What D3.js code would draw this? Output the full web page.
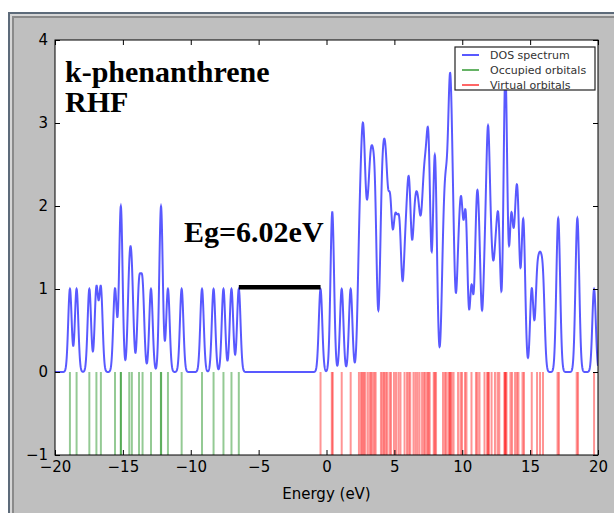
<!DOCTYPE html>
<html>
<head>
<meta charset="utf-8">
<script src="https://cdnjs.cloudflare.com/ajax/libs/d3/7.8.5/d3.min.js"></script>
<style>
  body { margin: 0; background: #fff; }
  svg { display: block; }
</style>
</head>
<body>
<script>
// orbital energies in eV
var occupied_levels = [-18.90, -18.41, -17.47, -16.95, -16.62, -15.58, -15.16, -15.14,
  -14.53, -14.34, -13.81, -13.55, -12.93, -12.20, -12.18, -11.68, -10.67, -9.17,
  -8.32, -7.59, -7.00, -6.46];
var virtual_levels = [-0.44, 0.39, 0.46, 1.12, 1.78,
  2.39, 2.54, 2.65, 2.73, 2.84, 3.02, 3.17, 3.28, 3.39, 3.52, 3.62,
  4.01, 4.13, 4.24, 4.35, 4.46, 4.64, 4.75, 4.97, 5.12, 5.30, 5.45,
  5.75, 5.93, 6.06, 6.17, 6.41, 6.56, 6.70, 6.85, 7.04, 7.18, 7.29, 7.43, 7.51, 7.60,
  7.90, 7.98, 8.07, 8.58, 8.73, 8.84, 9.00, 9.08, 9.13, 9.22, 9.36,
  9.69, 9.87, 9.98, 10.20, 10.31, 10.68, 11.01, 11.12, 11.27,
  11.64, 11.83, 11.90, 11.97, 12.16, 12.41, 12.60, 12.73,
  13.10, 13.15, 13.20, 13.26, 13.55, 13.67, 13.89, 14.03, 14.14, 14.44, 14.55,
  15.12, 15.51, 15.73, 15.95, 17.02, 17.12, 18.43, 18.53, 19.71];
var homo_energy = -6.46;
var lumo_energy = -0.44;
var broadening_fwhm = 0.3; // gaussian width used for the DOS curve
var x_ticks = [-20, -15, -10, -5, 0, 5, 10, 15, 20];
var y_ticks = [-1, 0, 1, 2, 3, 4];
var legend_labels = ["DOS spectrum", "Occupied orbitals", "Virtual orbitals"];
var title_lines = ["k-phenanthrene", "RHF"];
var gap_label = "Eg=6.02eV";

var width = 614, height = 513;
var svg = d3.select("body").append("svg")
  .attr("width", width)
  .attr("height", height);

// window border and grey figure background
svg.append("rect").attr("x", 8).attr("y", 12).attr("width", width - 8).attr("height", height - 12)
  .attr("fill", "#5d6b7a");
svg.append("rect").attr("x", 10).attr("y", 14).attr("width", width - 10).attr("height", height - 14)
  .attr("fill", "#d6d6d6");
svg.append("rect").attr("x", 12).attr("y", 16).attr("width", width - 12).attr("height", height - 16)
  .attr("fill", "#8a8a8a");
svg.append("rect").attr("x", 14).attr("y", 18).attr("width", width - 14).attr("height", height - 18)
  .attr("fill", "#bfbfbf");

// plot area edges in pixels
var plot_left = 55, plot_right = 598, plot_top = 40, plot_bottom = 455;
var x = d3.scaleLinear().domain([-20, 20]).range([plot_left, plot_right]);
var y = d3.scaleLinear().domain([-1, 4]).range([plot_bottom, plot_top]);

svg.append("rect")
  .attr("x", plot_left).attr("y", plot_top)
  .attr("width", plot_right - plot_left).attr("height", plot_bottom - plot_top)
  .attr("fill", "#fff");

svg.append("clipPath").attr("id", "plot-clip")
  .append("rect")
  .attr("x", plot_left).attr("y", plot_top)
  .attr("width", plot_right - plot_left).attr("height", plot_bottom - plot_top);

var plot = svg.append("g").attr("clip-path", "url(#plot-clip)");

// stick spectrum, one line per orbital from 0 down to -1
plot.selectAll(".occ")
  .data(occupied_levels)
  .enter().append("line")
  .attr("class", "occ")
  .attr("x1", d => x(d)).attr("x2", d => x(d))
  .attr("y1", y(0)).attr("y2", y(-1))
  .attr("stroke", "#008000")
  .attr("stroke-opacity", 0.42)
  .attr("stroke-width", 2);

plot.selectAll(".virt")
  .data(virtual_levels)
  .enter().append("line")
  .attr("class", "virt")
  .attr("x1", d => x(d)).attr("x2", d => x(d))
  .attr("y1", y(0)).attr("y2", y(-1))
  .attr("stroke", "#ff0000")
  .attr("stroke-opacity", 0.42)
  .attr("stroke-width", 2);

// DOS = gaussian broadening of all the levels above
var sigma = broadening_fwhm / (2 * Math.sqrt(2 * Math.log(2)));
var all_levels = occupied_levels.concat(virtual_levels);
var energy_grid = d3.range(-20, 20.0001, 0.01);
var dos = energy_grid.map(function(e) {
  return [e, d3.sum(all_levels, l => Math.exp(-(e - l) * (e - l) / (2 * sigma * sigma)))];
});

plot.append("path")
  .datum(dos)
  .attr("d", d3.line().x(d => x(d[0])).y(d => y(d[1])))
  .attr("fill", "none")
  .attr("stroke", "#0000ff")
  .attr("stroke-opacity", 0.65)
  .attr("stroke-width", 2);

// band gap bar
svg.append("line")
  .attr("x1", x(homo_energy)).attr("x2", x(lumo_energy))
  .attr("y1", y(1.02)).attr("y2", y(1.02))
  .attr("stroke", "#000")
  .attr("stroke-width", 4.5);

// axes, ticks pointing inwards on all four sides
var tick_font = "DejaVu Sans, sans-serif";
svg.append("g").attr("transform", "translate(0," + plot_bottom + ")")
  .call(d3.axisBottom(x).tickValues(x_ticks).tickFormat(d3.format("d"))
    .tickSizeInner(-5).tickSizeOuter(0).tickPadding(6));
svg.append("g").attr("transform", "translate(" + plot_left + ",0)")
  .call(d3.axisLeft(y).tickValues(y_ticks).tickFormat(d3.format("d"))
    .tickSizeInner(-5).tickSizeOuter(0).tickPadding(7));
svg.append("g").attr("transform", "translate(0," + plot_top + ")")
  .call(d3.axisTop(x).tickValues(x_ticks).tickSizeInner(-5).tickSizeOuter(0).tickFormat(""));
svg.append("g").attr("transform", "translate(" + plot_right + ",0)")
  .call(d3.axisRight(y).tickValues(y_ticks).tickSizeInner(-5).tickSizeOuter(0).tickFormat(""));

svg.selectAll(".domain").remove();
svg.selectAll(".tick line").attr("stroke", "#000");
svg.selectAll(".tick text")
  .style("font-family", tick_font)
  .style("font-size", "15px")
  .attr("fill", "#000");

svg.append("rect")
  .attr("x", plot_left).attr("y", plot_top)
  .attr("width", plot_right - plot_left).attr("height", plot_bottom - plot_top)
  .attr("fill", "none")
  .attr("stroke", "#000")
  .attr("stroke-width", 1);

svg.append("text")
  .text("Energy (eV)")
  .attr("x", (plot_left + plot_right) / 2)
  .attr("y", 499)
  .attr("text-anchor", "middle")
  .style("font-family", tick_font)
  .style("font-size", "15px");

// labels inside the plot
svg.selectAll(".title")
  .data(title_lines)
  .enter().append("text")
  .attr("class", "title")
  .text(d => d)
  .attr("x", 65)
  .attr("y", (d, i) => 82 + i * 30)
  .style("font-family", "Liberation Serif, Times New Roman, serif")
  .style("font-weight", "bold")
  .style("font-size", "30px");

svg.append("text")
  .text(gap_label)
  .attr("x", 184)
  .attr("y", 242)
  .style("font-family", "Liberation Serif, Times New Roman, serif")
  .style("font-weight", "bold")
  .style("font-size", "30px");

// legend
var legend_colors = ["#0000ff", "#008000", "#ff0000"];
var legend_opacity = [0.65, 0.6, 0.6];
var legend = svg.append("g");
legend.append("rect")
  .attr("x", 455).attr("y", 47)
  .attr("width", 140).attr("height", 43)
  .attr("fill", "#fff")
  .attr("stroke", "#222")
  .attr("stroke-width", 1.2);

legend_labels.forEach(function(label, i) {
  var row_y = 55 + i * 15;
  legend.append("line")
    .attr("x1", 462).attr("x2", 479)
    .attr("y1", row_y).attr("y2", row_y)
    .attr("stroke", legend_colors[i])
    .attr("stroke-opacity", legend_opacity[i])
    .attr("stroke-width", 2);
  legend.append("text")
    .text(label)
    .attr("x", 490)
    .attr("y", row_y)
    .attr("dy", "0.35em")
    .style("font-family", tick_font)
    .style("font-size", "11px")
    .attr("fill", "#333");
});
</script>
</body>
</html>
